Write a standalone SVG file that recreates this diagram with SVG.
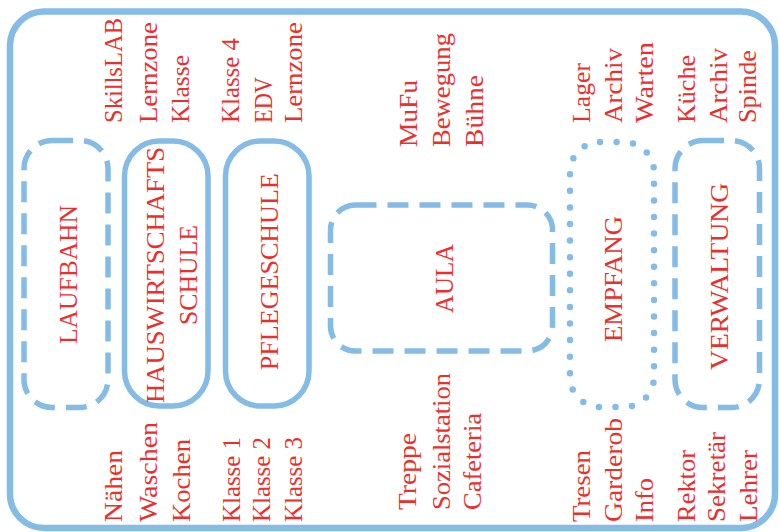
<svg xmlns="http://www.w3.org/2000/svg" width="779" height="532" viewBox="0 0 779 532">
  <style>
    .frame { fill: none; stroke: #85bce6; stroke-width: 6.5; }
    .solid { fill: none; stroke: #85bce6; stroke-width: 5.5; }
    .dash { fill: none; stroke: #85bce6; stroke-width: 5.5; stroke-dasharray: 21 11; }
    .dots { fill: none; stroke: #85bce6; stroke-width: 6.5; stroke-linecap: round; stroke-dasharray: 0 16.58; }
    text { font-family: "Liberation Serif", "Times New Roman", serif; font-size: 26px; fill: #e8302e; }
    .mid { text-anchor: middle; }
  </style>
  <rect width="779" height="532" fill="#ffffff"/>
  <!-- outer frame -->
  <rect class="frame" x="10" y="11.5" width="765" height="516.5" rx="34"/>

  <!-- building sections -->
  <g id="laufbahn">
    <rect class="dash" x="24" y="140.5" width="84" height="267" rx="28"/>
    <text class="mid" transform="translate(77,274.5) rotate(-90)" textLength="139" lengthAdjust="spacingAndGlyphs">LAUFBAHN</text>
  </g>
  <g id="hauswirtschaftsschule">
    <rect class="solid" x="124.5" y="141" width="83.5" height="265" rx="35"/>
    <text class="mid" transform="translate(164,275) rotate(-90)" textLength="256" lengthAdjust="spacingAndGlyphs">HAUSWIRTSCHAFTS</text>
    <text class="mid" transform="translate(197,275) rotate(-90)" textLength="100" lengthAdjust="spacingAndGlyphs">SCHULE</text>
  </g>
  <g id="pflegeschule">
    <rect class="solid" x="225.5" y="141" width="83.5" height="265" rx="35"/>
    <text class="mid" transform="translate(278,271.7) rotate(-90)" textLength="197" lengthAdjust="spacingAndGlyphs">PFLEGESCHULE</text>
  </g>
  <g id="aula">
    <rect class="dash" x="330.5" y="205" width="222" height="146" rx="25"/>
    <text class="mid" transform="translate(453,278.5) rotate(-90)" textLength="69" lengthAdjust="spacingAndGlyphs">AULA</text>
  </g>
  <g id="empfang">
    <rect class="dots" x="570" y="142" width="84" height="265" rx="30"/>
    <text class="mid" transform="translate(622,279) rotate(-90)" textLength="126" lengthAdjust="spacingAndGlyphs">EMPFANG</text>
  </g>
  <g id="verwaltung">
    <rect class="dash" x="675" y="140.5" width="84.5" height="267" rx="28"/>
    <text class="mid" transform="translate(728,276.5) rotate(-90)" textLength="187" lengthAdjust="spacingAndGlyphs">VERWALTUNG</text>
  </g>

  <!-- room lists above the sections -->
  <g id="rooms-top">
    <text transform="translate(122,123) rotate(-90)" textLength="105" lengthAdjust="spacingAndGlyphs">SkillsLAB</text>
    <text transform="translate(157,123) rotate(-90)" textLength="101" lengthAdjust="spacingAndGlyphs">Lernzone</text>
    <text transform="translate(189,123) rotate(-90)" textLength="68" lengthAdjust="spacingAndGlyphs">Klasse</text>
    <text transform="translate(239,123) rotate(-90)" textLength="85" lengthAdjust="spacingAndGlyphs">Klasse 4</text>
    <text transform="translate(272,123) rotate(-90)" textLength="46" lengthAdjust="spacingAndGlyphs">EDV</text>
    <text transform="translate(302,123) rotate(-90)" textLength="101" lengthAdjust="spacingAndGlyphs">Lernzone</text>
    <text transform="translate(417,147) rotate(-90)" textLength="67" lengthAdjust="spacingAndGlyphs">MuFu</text>
    <text transform="translate(450,147) rotate(-90)" textLength="114" lengthAdjust="spacingAndGlyphs">Bewegung</text>
    <text transform="translate(483,147) rotate(-90)" textLength="72" lengthAdjust="spacingAndGlyphs">Bühne</text>
    <text transform="translate(590,123) rotate(-90)" textLength="60" lengthAdjust="spacingAndGlyphs">Lager</text>
    <text transform="translate(622,123) rotate(-90)" textLength="75" lengthAdjust="spacingAndGlyphs">Archiv</text>
    <text transform="translate(653,123) rotate(-90)" textLength="81" lengthAdjust="spacingAndGlyphs">Warten</text>
    <text transform="translate(695,123) rotate(-90)" textLength="68" lengthAdjust="spacingAndGlyphs">Küche</text>
    <text transform="translate(727,123) rotate(-90)" textLength="75" lengthAdjust="spacingAndGlyphs">Archiv</text>
    <text transform="translate(756,123) rotate(-90)" textLength="73" lengthAdjust="spacingAndGlyphs">Spinde</text>
  </g>

  <!-- room lists below the sections -->
  <g id="rooms-bottom">
    <text transform="translate(122,522) rotate(-90)" textLength="72" lengthAdjust="spacingAndGlyphs">Nähen</text>
    <text transform="translate(157,522) rotate(-90)" textLength="100" lengthAdjust="spacingAndGlyphs">Waschen</text>
    <text transform="translate(190,522) rotate(-90)" textLength="83" lengthAdjust="spacingAndGlyphs">Kochen</text>
    <text transform="translate(240,522) rotate(-90)" textLength="85" lengthAdjust="spacingAndGlyphs">Klasse 1</text>
    <text transform="translate(270,522) rotate(-90)" textLength="85" lengthAdjust="spacingAndGlyphs">Klasse 2</text>
    <text transform="translate(302,522) rotate(-90)" textLength="85" lengthAdjust="spacingAndGlyphs">Klasse 3</text>
    <text transform="translate(416,510) rotate(-90)" textLength="77" lengthAdjust="spacingAndGlyphs">Treppe</text>
    <text transform="translate(450,510) rotate(-90)" textLength="137" lengthAdjust="spacingAndGlyphs">Sozialstation</text>
    <text transform="translate(481,510) rotate(-90)" textLength="97" lengthAdjust="spacingAndGlyphs">Cafeteria</text>
    <text transform="translate(590,522) rotate(-90)" textLength="72" lengthAdjust="spacingAndGlyphs">Tresen</text>
    <text transform="translate(622,522) rotate(-90)" textLength="104" lengthAdjust="spacingAndGlyphs">Garderob</text>
    <text transform="translate(653,522) rotate(-90)" textLength="44" lengthAdjust="spacingAndGlyphs">Info</text>
    <text transform="translate(695,522) rotate(-90)" textLength="72" lengthAdjust="spacingAndGlyphs">Rektor</text>
    <text transform="translate(725,522) rotate(-90)" textLength="90" lengthAdjust="spacingAndGlyphs">Sekretär</text>
    <text transform="translate(757,522) rotate(-90)" textLength="72" lengthAdjust="spacingAndGlyphs">Lehrer</text>
  </g>
</svg>
